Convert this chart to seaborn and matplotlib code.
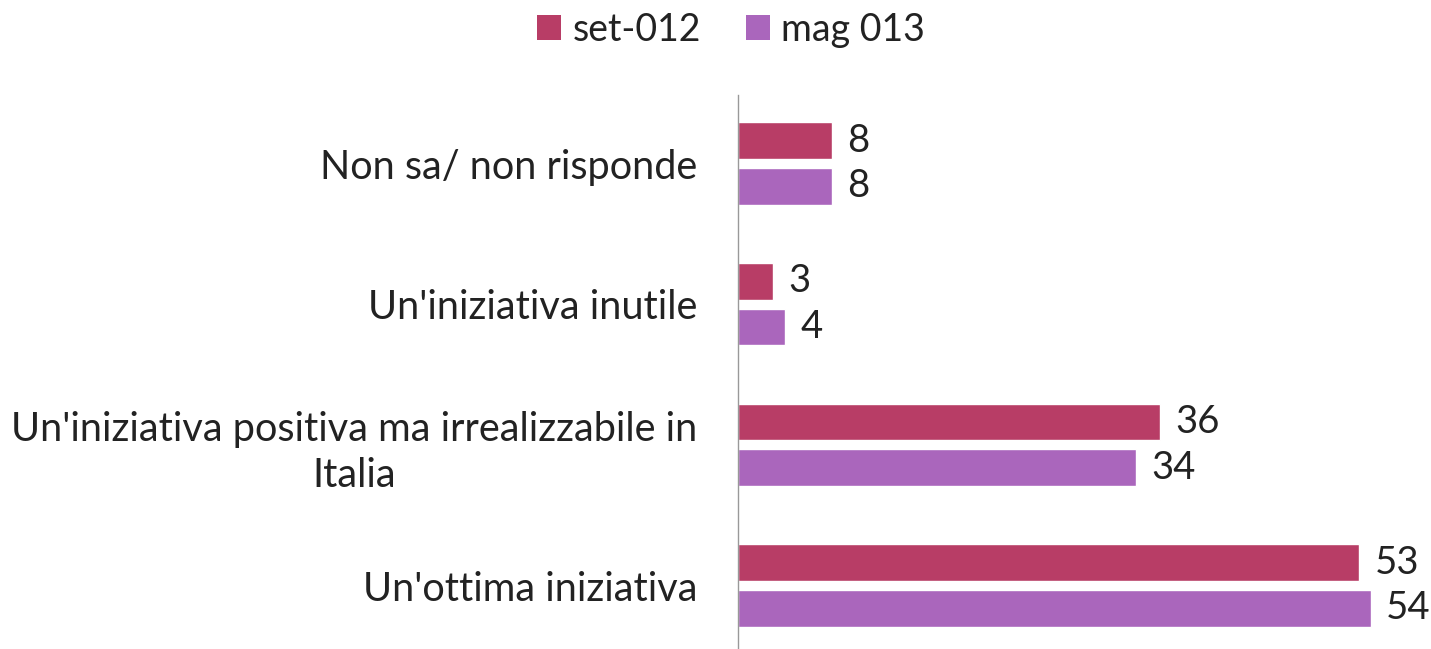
import matplotlib
matplotlib.use("Agg")
import matplotlib.pyplot as plt
import seaborn as sns
import pandas as pd
from matplotlib.patches import Patch

categories = ["Non sa/ non risponde", "Un'iniziativa inutile",
              "Un'iniziativa positiva ma irrealizzabile in\nItalia", "Un'ottima iniziativa"]
series_names = ["set-012", "mag 013"]
set012 = [8, 3, 36, 53]
mag013 = [8, 4, 34, 54]
colors = ["#B83D66", "#AA66BC"]

df = pd.DataFrame({
    "Categoria": categories * 2,
    "Serie": [series_names[0]] * 4 + [series_names[1]] * 4,
    "Valore": set012 + mag013,
})

sns.set_theme(style="white")
plt.rcParams["font.family"] = ["Lato", "DejaVu Sans"]

fig = plt.figure(figsize=(14.31, 6.49), dpi=100)
ax = fig.add_axes([738/1431, 0.0, 1 - 738/1431, 1 - 95/649])

sns.barplot(data=df, y="Categoria", x="Valore", hue="Serie", orient="h",
            palette=colors, width=0.652, gap=0.2, ax=ax, legend=False,
            saturation=1)

for cont in ax.containers:
    ax.bar_label(cont, padding=11, fontsize=27.5, color="#222222")

ax.set_xlim(0, (1431 - 738) / 11.72)
ax.set_ylim(3.451, -0.487)
ax.set_xlabel("")
ax.set_ylabel("")
ax.set_xticks([])
ax.set_yticks(range(len(categories)), labels=categories, multialignment="center",
              linespacing=1.3)
for s in ["top", "right", "bottom"]:
    ax.spines[s].set_visible(False)
ax.spines["left"].set_color("#999999")
ax.spines["left"].set_linewidth(1)
ax.tick_params(axis="y", length=0, pad=29, labelsize=28.5, labelcolor="#222222")

handles = [Patch(facecolor=c, edgecolor="none") for c in colors]
fig.legend(handles, series_names, loc="center", bbox_to_anchor=(731/1431, 1 - 30/649),
           ncol=2, frameon=False, fontsize=27, handlelength=0.65, handleheight=0.65,
           handletextpad=0.3, columnspacing=1.2, labelcolor="#222222")

fig.savefig("out.png", dpi=100, facecolor="white")
